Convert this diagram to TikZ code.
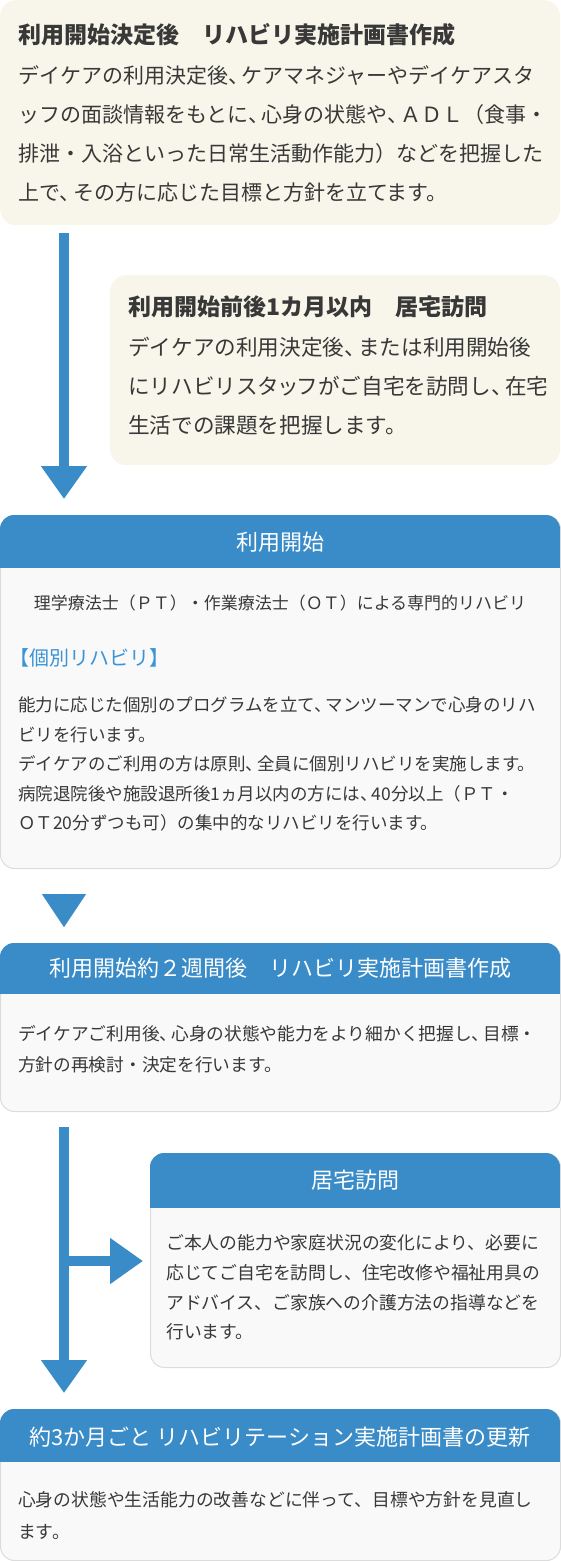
\documentclass[tikz,border=0pt]{standalone}
\usepackage{fontspec}
\setmainfont{Noto Sans CJK JP}
\usetikzlibrary{arrows.meta}
\definecolor{hblue}{HTML}{3A8CC8}
\definecolor{beige}{HTML}{F8F6EA}
\definecolor{bodyg}{HTML}{F9F9F9}
\definecolor{bord}{HTML}{DCDCDC}
\definecolor{txt}{HTML}{383838}
\definecolor{lblue}{HTML}{3B94D5}
\newcommand\tn{、\kern-.35em}
\tikzset{
  note/.style={fill=beige, draw=none, rounded corners=16pt, inner sep=0pt, anchor=north west},
  panel/.style={fill=bodyg, draw=bord, line width=1pt, rounded corners=14pt, inner sep=0pt, anchor=north west},
  headfill/.style={fill=hblue},
  head/.style={text=white, font=\fontsize{22}{26}\selectfont, inner sep=0pt, anchor=center},
  ttl/.style={anchor=base west, inner sep=0pt, text=txt, font=\fontsize{23}{26}\selectfont\bfseries},
  para/.style={anchor=base west, inner sep=0pt, text=txt, align=left, text width=560pt},
  flow/.style={draw=hblue, line width=9.5pt, -{Triangle[width=44pt,length=33pt]}},
  tiponly/.style={draw=hblue, line width=0.01pt, -{Triangle[width=44pt,length=33pt]}},
}
\begin{document}
\begin{tikzpicture}[x=1pt,y=-1pt]
\useasboundingbox (0,0) rectangle (560,1561);

% box 1
\node[note, minimum width=560pt, minimum height=225pt] (b1) at (0,0) {};
\node[ttl] (b1t) at (18,43) {利用開始決定後　リハビリ実施計画書作成};
\node[para, font=\fontsize{21}{39.3}\selectfont] (b1p) at (18,83) {デイケアの利用決定後\tn ケアマネジャーやデイケアスタ\\ッフの面談情報をもとに\tn 心身の状態や\tn ＡＤＬ（食事・\\排泄・入浴といった日常生活動作能力）などを把握した\\上で\tn その方に応じた目標と方針を立てます。};

% box 2
\node[note, minimum width=450pt, minimum height=190pt] (b2) at (110,275) {};
\node[ttl] (b2t) at (128,315) {利用開始前後1カ月以内　居宅訪問};
\node[para, font=\fontsize{21.6}{39}\selectfont] (b2p) at (128,355) {デイケアの利用決定後\tn または利用開始後\\にリハビリスタ\kern-.1emッ\kern-.1emフがご自宅を訪問し\tn 在宅\\生活での課題を把握します。};

% box 3
\node[panel, minimum width=560pt, minimum height=353pt] (b3) at (0,515) {};
\begin{scope}
  \clip[rounded corners=14pt] (0,515) rectangle (560,868);
  \fill[headfill] (-1,514) rectangle (561,568);
\end{scope}
\node[head] (b3h) at (280,542) {利用開始};
\node[anchor=center, inner sep=0pt, text=txt, font=\fontsize{17}{20}\selectfont] (b3s) at (280,603) {理学療法士（ＰＴ）・作業療法士（ＯＴ）による専門的リハビリ};
\node[anchor=west, inner sep=0pt, text=lblue, font=\fontsize{20}{24}\selectfont] (b3k) at (9,658) {【個別リハビリ】};
\node[para, font=\fontsize{17.5}{29.5}\selectfont] (b3p) at (18,711.6) {能力に応じた個別のプログラムを立て\tn マンツーマンで心身のリハ\\ビリを行います。\\デイケアのご利用の方は原則\tn 全員に個別リハビリを実施します。\\病院退院後や施設退所後1ヵ月以内の方には\tn 40分以上（ＰＴ・\\ＯＴ20分ずつも可）の集中的なリハビリを行います。};

% box 4
\node[panel, minimum width=560pt, minimum height=168pt] (b4) at (0,943) {};
\begin{scope}
  \clip[rounded corners=14pt] (0,943) rectangle (560,1111);
  \fill[headfill] (-1,942) rectangle (561,994);
\end{scope}
\node[head] (b4h) at (280,968) {利用開始約２週間後　リハビリ実施計画書作成};
\node[para, font=\fontsize{17.7}{31}\selectfont] (b4p) at (18,1040.6) {デイケアご利用後\tn 心身の状態や能力をより細かく把握し\tn 目標・\\方針の再検討・決定を行います。};

% box 5
\node[panel, minimum width=410pt, minimum height=214pt] (b5) at (150,1153) {};
\begin{scope}
  \clip[rounded corners=14pt] (150,1153) rectangle (560,1367);
  \fill[headfill] (149,1152) rectangle (561,1208);
\end{scope}
\node[head] (b5h) at (355,1180) {居宅訪問};
\node[para, font=\fontsize{17.8}{29.7}\selectfont] (b5p) at (166,1249.6) {ご本人の能力や家庭状況の変化により、必要に\\応じてご自宅を訪問し、住宅改修や福祉用具の\\アドバイス、ご家族への介護方法の指導などを\\行います。};

% box 6
\node[panel, minimum width=560pt, minimum height=151pt] (b6) at (0,1409) {};
\begin{scope}
  \clip[rounded corners=14pt] (0,1409) rectangle (560,1560);
  \fill[headfill] (-1,1408) rectangle (561,1462);
\end{scope}
\node[head] (b6h) at (280,1437) {約3か月ごと リハビリテーション実施計画書の更新};
\node[para, font=\fontsize{17.8}{32}\selectfont] (b6p) at (18,1506.6) {心身の状態や生活能力の改善などに伴って、目標や方針を見直し\\ます。};

% connectors
\coordinate (a1s) at (64,233);
\coordinate (a1e) at (64,499);
\draw[flow] (a1s) -- (a1e);
\coordinate (a2s) at (64,893);
\coordinate (a2e) at (64,927);
\draw[tiponly] (a2s) -- (a2e);
\coordinate (a3s) at (64,1127);
\coordinate (a3e) at (64,1393);
\draw[flow] (a3s) -- (a3e);
\coordinate (br) at (64,1261);
\coordinate (a4e) at (143,1261);
\draw[flow] (br) -- (a4e);
\end{tikzpicture}
\end{document}
